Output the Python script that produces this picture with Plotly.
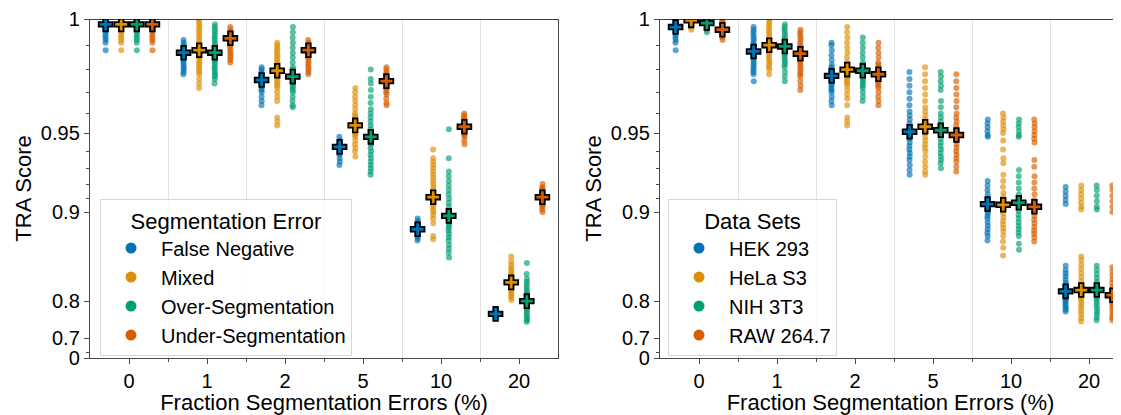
import plotly.graph_objects as go

# ---------------- data ----------------
levels = ["0", "1", "2", "5", "10", "20"]
error_types = ["False Negative", "Mixed", "Over-Segmentation", "Under-Segmentation"]
data_sets = ["HEK 293", "HeLa S3", "NIH 3T3", "RAW 264.7"]
colors = ["#0173B2", "#DE8F05", "#029E73", "#D55E00"]

# Left panel: TRA scores by segmentation error type (per error level)
fn_scores = [
    [1.0, 1.0, 1.0, 1.0, 0.999, 0.999, 0.999, 0.998, 0.998, 0.997, 0.996, 0.995, 0.994, 0.993, 0.992, 0.991, 0.988],
    [0.992, 0.991, 0.990, 0.989, 0.988, 0.988, 0.987, 0.987, 0.986, 0.986, 0.985, 0.984, 0.983, 0.982, 0.981, 0.980, 0.979, 0.978],
    [0.981, 0.980, 0.979, 0.978, 0.977, 0.976, 0.976, 0.975, 0.975, 0.974, 0.973, 0.972, 0.971, 0.970, 0.968, 0.966, 0.964],
    [0.948, 0.946, 0.945, 0.944, 0.943, 0.942, 0.942, 0.941, 0.940, 0.939, 0.938, 0.936, 0.934, 0.932],
    [0.895, 0.893, 0.891, 0.889, 0.887, 0.886, 0.885, 0.884, 0.882, 0.880, 0.878, 0.876],
    [0.781, 0.779, 0.777, 0.776, 0.775, 0.774, 0.773, 0.771, 0.769],
]
mixed_scores = [
    [1.0, 1.0, 1.0, 1.0, 0.999, 0.999, 0.999, 0.998, 0.998, 0.997, 0.996, 0.995, 0.994, 0.993, 0.992, 0.991, 0.988],
    [1.0, 0.999, 0.998, 0.997, 0.996, 0.995, 0.994, 0.993, 0.992, 0.991, 0.990, 0.989, 0.988, 0.988, 0.987, 0.986, 0.985, 0.984, 0.983, 0.982, 0.981, 0.980, 0.979, 0.978, 0.976, 0.974, 0.972],
    [0.991, 0.990, 0.989, 0.988, 0.987, 0.986, 0.985, 0.984, 0.983, 0.982, 0.981, 0.980, 0.979, 0.978, 0.977, 0.976, 0.975, 0.974, 0.973, 0.972, 0.970, 0.968, 0.966, 0.958, 0.956, 0.954],
    [0.972, 0.970, 0.968, 0.966, 0.964, 0.962, 0.960, 0.959, 0.958, 0.957, 0.956, 0.955, 0.954, 0.953, 0.952, 0.951, 0.950, 0.949, 0.948, 0.946, 0.944, 0.942, 0.940, 0.937],
    [0.941, 0.936, 0.934, 0.932, 0.930, 0.928, 0.926, 0.924, 0.922, 0.920, 0.918, 0.916, 0.914, 0.912, 0.910, 0.908, 0.906, 0.904, 0.902, 0.900, 0.898, 0.895, 0.891, 0.880, 0.877],
    [0.860, 0.855, 0.851, 0.848, 0.845, 0.842, 0.839, 0.836, 0.833, 0.830, 0.828, 0.825, 0.822, 0.819, 0.816, 0.813, 0.810, 0.806, 0.802],
]
over_scores = [
    [1.0, 1.0, 1.0, 1.0, 0.999, 0.999, 0.999, 0.998, 0.998, 0.997, 0.996, 0.995, 0.994, 0.993, 0.992, 0.991, 0.988],
    [0.998, 0.997, 0.996, 0.995, 0.994, 0.993, 0.992, 0.991, 0.990, 0.989, 0.988, 0.987, 0.986, 0.985, 0.984, 0.983, 0.982, 0.981, 0.980, 0.979, 0.978, 0.977, 0.976, 0.974],
    [0.997, 0.995, 0.993, 0.991, 0.989, 0.987, 0.985, 0.983, 0.981, 0.980, 0.979, 0.978, 0.977, 0.976, 0.975, 0.974, 0.973, 0.972, 0.971, 0.970, 0.968, 0.966, 0.964, 0.963],
    [0.980, 0.976, 0.974, 0.971, 0.968, 0.965, 0.962, 0.960, 0.958, 0.956, 0.954, 0.952, 0.950, 0.949, 0.948, 0.947, 0.946, 0.945, 0.944, 0.942, 0.940, 0.938, 0.936, 0.934, 0.932, 0.930, 0.928, 0.926],
    [0.952, 0.936, 0.928, 0.925, 0.922, 0.919, 0.916, 0.913, 0.910, 0.907, 0.904, 0.901, 0.899, 0.897, 0.895, 0.893, 0.891, 0.889, 0.887, 0.885, 0.882, 0.879, 0.876, 0.872, 0.868, 0.864, 0.859],
    [0.853, 0.840, 0.834, 0.830, 0.826, 0.822, 0.818, 0.815, 0.812, 0.809, 0.806, 0.803, 0.800, 0.797, 0.794, 0.791, 0.788, 0.784, 0.780, 0.775, 0.770, 0.765, 0.760, 0.756],
]
under_scores = [
    [1.0, 1.0, 1.0, 1.0, 0.999, 0.999, 0.999, 0.998, 0.998, 0.997, 0.996, 0.995, 0.994, 0.993, 0.992, 0.991, 0.988],
    [0.997, 0.996, 0.995, 0.994, 0.994, 0.993, 0.993, 0.992, 0.992, 0.991, 0.990, 0.989, 0.988, 0.987, 0.986, 0.985, 0.984, 0.983],
    [0.992, 0.991, 0.990, 0.989, 0.989, 0.988, 0.988, 0.987, 0.987, 0.986, 0.985, 0.984, 0.983, 0.982, 0.981, 0.980, 0.979, 0.978],
    [0.981, 0.980, 0.979, 0.978, 0.977, 0.976, 0.975, 0.975, 0.974, 0.973, 0.972, 0.971, 0.970, 0.969, 0.967, 0.965, 0.964],
    [0.960, 0.959, 0.958, 0.957, 0.956, 0.955, 0.954, 0.953, 0.953, 0.952, 0.951, 0.950, 0.949, 0.948, 0.946, 0.944],
    [0.920, 0.918, 0.917, 0.916, 0.915, 0.914, 0.913, 0.912, 0.911, 0.910, 0.909, 0.908, 0.907, 0.906, 0.905, 0.904, 0.902, 0.900],
]
fn_mean = [0.998, 0.987, 0.9755, 0.9425, 0.886, 0.775]
mixed_mean = [0.998, 0.988, 0.9795, 0.954, 0.911, 0.829]
over_mean = [0.998, 0.987, 0.977, 0.948, 0.897, 0.800]
under_mean = [0.998, 0.9927, 0.988, 0.975, 0.9533, 0.911]

# Right panel: TRA scores by data set (per error level)
hek_scores = [
    [1.0, 1.0, 0.999, 0.999, 0.998, 0.998, 0.997, 0.997, 0.996, 0.995, 0.994, 0.993, 0.992, 0.991, 0.988],
    [0.997, 0.996, 0.995, 0.994, 0.993, 0.992, 0.991, 0.990, 0.989, 0.988, 0.988, 0.987, 0.987, 0.986, 0.985, 0.984, 0.983, 0.982, 0.981, 0.980, 0.979, 0.978, 0.975],
    [0.991, 0.990, 0.988, 0.986, 0.984, 0.982, 0.981, 0.980, 0.979, 0.978, 0.977, 0.976, 0.975, 0.974, 0.973, 0.972, 0.971, 0.970, 0.968, 0.966, 0.964],
    [0.979, 0.976, 0.973, 0.970, 0.967, 0.964, 0.961, 0.959, 0.957, 0.955, 0.953, 0.952, 0.951, 0.950, 0.949, 0.948, 0.947, 0.945, 0.943, 0.941, 0.939, 0.937, 0.935, 0.932, 0.929, 0.926],
    [0.957, 0.955, 0.953, 0.951, 0.949, 0.948, 0.922, 0.919, 0.916, 0.913, 0.910, 0.907, 0.905, 0.903, 0.901, 0.899, 0.897, 0.895, 0.892, 0.889, 0.886, 0.883, 0.880, 0.876],
    [0.918, 0.915, 0.912, 0.909, 0.906, 0.850, 0.845, 0.841, 0.837, 0.833, 0.829, 0.825, 0.821, 0.818, 0.815, 0.812, 0.809, 0.806, 0.803, 0.800, 0.796, 0.792, 0.788, 0.784, 0.780],
]
hela_scores = [
    [1.0, 1.0, 1.0, 1.0, 0.999, 0.999, 0.999, 0.998, 0.998, 0.997, 0.996],
    [1.0, 0.999, 0.998, 0.997, 0.996, 0.995, 0.994, 0.993, 0.992, 0.991, 0.990, 0.990, 0.989, 0.988, 0.987, 0.986, 0.985, 0.984, 0.983, 0.982, 0.981, 0.980, 0.978],
    [0.997, 0.995, 0.993, 0.991, 0.989, 0.987, 0.985, 0.983, 0.982, 0.981, 0.980, 0.979, 0.978, 0.977, 0.976, 0.975, 0.974, 0.973, 0.971, 0.969, 0.967, 0.964, 0.958, 0.956, 0.954],
    [0.981, 0.978, 0.975, 0.972, 0.969, 0.966, 0.963, 0.961, 0.959, 0.957, 0.955, 0.954, 0.953, 0.952, 0.951, 0.950, 0.948, 0.946, 0.944, 0.942, 0.940, 0.937, 0.934, 0.931, 0.928, 0.926],
    [0.960, 0.958, 0.956, 0.954, 0.952, 0.950, 0.946, 0.941, 0.936, 0.933, 0.926, 0.922, 0.918, 0.914, 0.911, 0.908, 0.905, 0.902, 0.899, 0.896, 0.893, 0.890, 0.887, 0.884, 0.880, 0.875, 0.869, 0.861],
    [0.919, 0.916, 0.913, 0.910, 0.907, 0.904, 0.902, 0.860, 0.856, 0.851, 0.846, 0.841, 0.836, 0.831, 0.826, 0.822, 0.818, 0.814, 0.810, 0.806, 0.802, 0.797, 0.792, 0.786, 0.780, 0.773, 0.765, 0.757],
]
nih_scores = [
    [1.0, 1.0, 1.0, 0.999, 0.999, 0.998, 0.998, 0.997, 0.996, 0.995],
    [0.998, 0.997, 0.996, 0.995, 0.994, 0.993, 0.992, 0.991, 0.990, 0.989, 0.988, 0.987, 0.986, 0.985, 0.984, 0.983, 0.982, 0.981, 0.979, 0.977, 0.975],
    [0.993, 0.991, 0.989, 0.987, 0.985, 0.983, 0.982, 0.981, 0.980, 0.979, 0.978, 0.977, 0.976, 0.975, 0.974, 0.973, 0.972, 0.970, 0.968, 0.966],
    [0.979, 0.977, 0.975, 0.973, 0.971, 0.966, 0.963, 0.960, 0.958, 0.956, 0.954, 0.953, 0.952, 0.951, 0.950, 0.949, 0.947, 0.945, 0.943, 0.941, 0.939, 0.937, 0.935, 0.933, 0.930],
    [0.957, 0.955, 0.953, 0.951, 0.949, 0.948, 0.929, 0.925, 0.921, 0.917, 0.913, 0.910, 0.907, 0.904, 0.901, 0.898, 0.895, 0.892, 0.889, 0.886, 0.883, 0.880, 0.873, 0.867],
    [0.919, 0.916, 0.912, 0.908, 0.904, 0.902, 0.850, 0.845, 0.840, 0.835, 0.830, 0.826, 0.822, 0.818, 0.814, 0.810, 0.806, 0.802, 0.797, 0.792, 0.786, 0.780, 0.774, 0.767, 0.760],
]
raw_scores = [
    [1.0, 0.999, 0.999, 0.998, 0.998, 0.997, 0.997, 0.996, 0.996, 0.995, 0.995, 0.994, 0.993, 0.992],
    [0.996, 0.995, 0.994, 0.993, 0.992, 0.991, 0.990, 0.989, 0.988, 0.987, 0.986, 0.985, 0.984, 0.983, 0.982, 0.981, 0.980, 0.979, 0.978, 0.977, 0.975, 0.973, 0.971],
    [0.991, 0.989, 0.987, 0.985, 0.983, 0.982, 0.981, 0.980, 0.979, 0.978, 0.977, 0.976, 0.975, 0.974, 0.973, 0.972, 0.970, 0.968, 0.966, 0.964],
    [0.978, 0.975, 0.972, 0.969, 0.966, 0.963, 0.960, 0.958, 0.956, 0.954, 0.952, 0.950, 0.949, 0.948, 0.947, 0.946, 0.944, 0.942, 0.940, 0.938, 0.936, 0.934, 0.931, 0.928],
    [0.957, 0.955, 0.953, 0.951, 0.949, 0.947, 0.945, 0.935, 0.931, 0.925, 0.921, 0.917, 0.913, 0.909, 0.906, 0.903, 0.900, 0.897, 0.894, 0.891, 0.888, 0.885, 0.882, 0.879, 0.875],
    [0.919, 0.916, 0.912, 0.908, 0.904, 0.900, 0.848, 0.843, 0.838, 0.833, 0.828, 0.823, 0.819, 0.815, 0.811, 0.807, 0.803, 0.799, 0.795, 0.790, 0.785, 0.779, 0.773, 0.767, 0.760],
]
hek_mean = [0.997, 0.9875, 0.9773, 0.9507, 0.906, 0.816]
hela_mean = [0.9995, 0.990, 0.980, 0.9533, 0.9055, 0.818]
nih_mean = [0.9985, 0.9895, 0.9795, 0.9515, 0.907, 0.818]
raw_mean = [0.996, 0.9866, 0.978, 0.949, 0.904, 0.810]

y_major = [0, 0.7, 0.8, 0.9, 0.95, 1]
y_major_text = ["0", "0.7", "0.8", "0.9", "0.95", "1"]
y_minor = [0.6, 0.91, 0.92, 0.93, 0.94, 0.96, 0.97, 0.98, 0.99]

# ---------------- figure ----------------
POWER = 8  # power-scale y axis (matches the reference's stretched top)


def tr(v):
    return v ** POWER


FONT = "Liberation Sans, Arial, sans-serif"
DODGE = 0.2

panels = [
    ("x", "y", error_types, [fn_scores, mixed_scores, over_scores, under_scores],
     [fn_mean, mixed_mean, over_mean, under_mean], "legend"),
    ("x2", "y2", data_sets, [hek_scores, hela_scores, nih_scores, raw_scores],
     [hek_mean, hela_mean, nih_mean, raw_mean], "legend2"),
]

fig = go.Figure()
for xa, ya, names, series, means, leg in panels:
    for j, (name, col) in enumerate(zip(names, colors)):
        off = (j - 1.5) * DODGE
        xs, ys = [], []
        for i, vals in enumerate(series[j]):
            xs += [i + off] * len(vals)
            ys += [tr(v) for v in vals]
        fig.add_trace(go.Box(
            x=xs, y=ys, xaxis=xa, yaxis=ya, boxpoints="all", jitter=0.35, pointpos=0,
            width=0.02, fillcolor="rgba(0,0,0,0)", line=dict(width=0, color=col),
            whiskerwidth=0,
            marker=dict(color=col, size=6, opacity=0.65, line=dict(width=0)),
            showlegend=False, hoverinfo="skip"))
    for j, (name, col) in enumerate(zip(names, colors)):
        off = (j - 1.5) * DODGE
        fig.add_trace(go.Scatter(
            x=[i + off for i in range(len(levels))], y=[tr(m) for m in means[j]],
            xaxis=xa, yaxis=ya, mode="markers",
            marker=dict(symbol="cross", size=11.5, color=col, line=dict(color="black", width=1.8)),
            showlegend=False, hoverinfo="skip"))
    for name, col in zip(names, colors):
        fig.add_trace(go.Scatter(
            x=[None], y=[None], xaxis=xa, yaxis=ya, mode="markers", name=name,
            marker=dict(color=col, size=11, symbol="circle"), legend=leg))

axis_common = dict(showline=True, linecolor="#4a4a4a", linewidth=1.4, ticks="outside",
                   tickcolor="#4a4a4a", tickfont=dict(size=20, family=FONT, color="black"),
                   zeroline=False, automargin=False)

x_common = dict(axis_common, tickmode="array", tickvals=list(range(len(levels))), ticktext=levels,
                ticklen=5, showgrid=False,
                title=dict(text="Fraction Segmentation Errors (%)", font=dict(size=22, family=FONT, color="black"),
                           standoff=2),
                minor=dict(tickvals=[i + 0.5 for i in range(len(levels) - 1)], ticks="outside", ticklen=3,
                           tickcolor="#4a4a4a", showgrid=True, gridcolor="#e3e3e3", gridwidth=1))

y_common = dict(axis_common, range=[0, 1], tickmode="array", tickvals=[tr(v) for v in y_major],
                ticktext=y_major_text, ticklen=5, showgrid=False,
                title=dict(text="TRA Score", font=dict(size=22, family=FONT, color="black"), standoff=3),
                minor=dict(tickvals=[tr(v) for v in y_minor], ticks="outside", ticklen=3,
                           tickcolor="#4a4a4a", showgrid=False))

# the page body adds an 8px margin, so the figure is 8px smaller and offset
OFF = 8
W, H = 1121 - OFF, 415 - OFF
ML, MT = 90 - OFF, 19 - OFF
MB = H - (358 - OFF)
MR = 0
pw = W - ML - MR
d1 = [0, (558 - 90) / pw]
d2 = [(660 - 90) / pw, 1]
r2 = -0.5 + (1 - d2[0]) * pw / ((558 - 90) / 6.0)

fig.update_layout(
    width=W, height=H, margin=dict(l=ML, r=MR, t=MT, b=MB, autoexpand=False),
    paper_bgcolor="white", plot_bgcolor="white", boxmode="overlay",
    font=dict(family=FONT, color="black"),
    xaxis=dict(x_common, domain=d1, range=[-0.5, 5.5], anchor="y"),
    yaxis=dict(y_common, domain=[0, 1], anchor="x", mirror=True),
    xaxis2=dict(x_common, domain=d2, range=[-0.5, r2], anchor="y2"),
    yaxis2=dict(y_common, domain=[0, 1], anchor="x2"),
    legend=dict(x=(100 - 90) / pw, y=(358 - 199) / 339, xanchor="left", yanchor="top",
                title=dict(text="Segmentation Error", font=dict(size=22, family=FONT), side="top center"),
                font=dict(size=20, family=FONT), bgcolor="rgba(255,255,255,0.85)",
                bordercolor="#d6d6d6", borderwidth=1, itemwidth=50, tracegroupgap=0),
    legend2=dict(x=(668 - 90) / pw, y=(358 - 199) / 339, xanchor="left", yanchor="top",
                 title=dict(text="Data Sets", font=dict(size=22, family=FONT), side="top center"),
                 font=dict(size=20, family=FONT), bgcolor="rgba(255,255,255,0.85)",
                 bordercolor="#d6d6d6", borderwidth=1, itemwidth=50, tracegroupgap=0),
    shapes=[
        dict(type="line", xref="x domain", yref="y", x0=0, x1=1, y0=1, y1=1,
             line=dict(color="black", width=1.6), layer="above"),
        dict(type="line", xref="x2 domain", yref="y2", x0=0, x1=1, y0=1, y1=1,
             line=dict(color="black", width=1.6), layer="above"),
    ],
)

fig.write_html("out.html")
